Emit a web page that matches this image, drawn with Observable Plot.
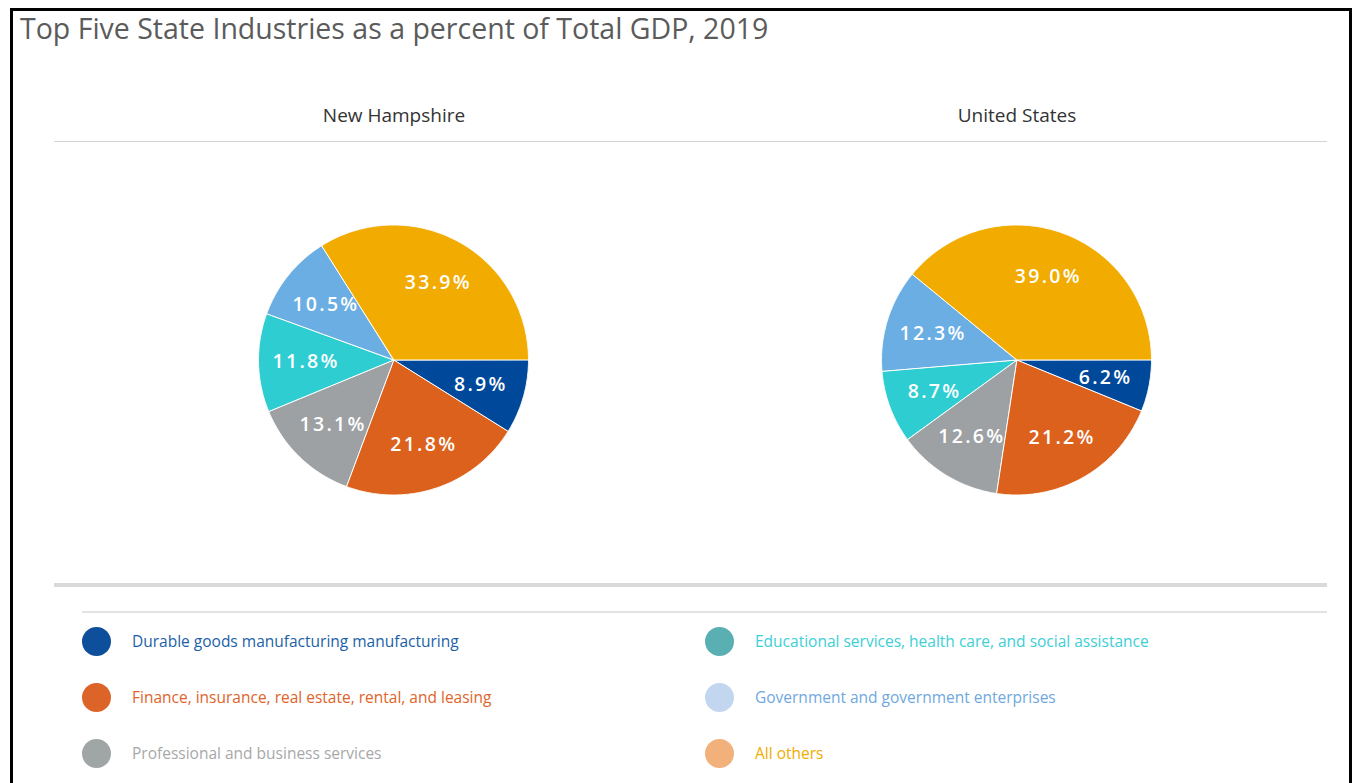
<!DOCTYPE html>
<html>
<head>
<meta charset="utf-8">
<script src="https://cdn.jsdelivr.net/npm/d3@7"></script>
<script src="https://cdn.jsdelivr.net/npm/@observablehq/plot@0.6"></script>
<style>
  html, body { margin: 0; padding: 0; background: #fff; overflow: hidden; }
  body { width: 1353px; height: 783px; position: relative; font-family: "Open Sans", "Noto Sans", sans-serif; }
  #frame { position: absolute; left: 10px; top: 8px; width: 1336px; height: 800px; border: 3px solid #000; box-sizing: content-box; }
  #title { position: absolute; left: 20px; top: 9px; font-size: 28.5px; color: #5b5b5b; white-space: nowrap; }
  .hline { position: absolute; }
  #chart { position: absolute; left: 0; top: 0; }
  .legend-item { position: absolute; display: flex; align-items: center; font-size: 15.5px; white-space: nowrap; }
  .legend-item .sw { width: 29px; height: 29px; border-radius: 50%; margin-right: 21px; }
</style>
</head>
<body>
<div id="frame"></div>
<div id="title">Top Five State Industries as a percent of Total GDP, 2019</div>
<div id="chart"></div>
<div class="hline" style="left:54px;top:141px;width:1273px;height:1px;background:#d4d4d4"></div>
<div class="hline" style="left:54px;top:583px;width:1273px;height:4px;background:#d9d9d9"></div>
<div class="hline" style="left:82px;top:611px;width:1245px;height:2px;background:#e2e2e2"></div>
<div id="legend"></div>
<script>
// ---- data ----
const regions = ["New Hampshire", "United States"];
const industries = [
  "Durable goods manufacturing manufacturing",
  "Finance, insurance, real estate, rental, and leasing",
  "Professional and business services",
  "Educational services, health care, and social assistance",
  "Government and government enterprises",
  "All others"
];
const nhValues = [8.9, 21.8, 13.1, 11.8, 10.5, 33.9];
const usValues = [6.2, 21.2, 12.6, 8.7, 12.3, 39.0];
const pieColors = ["#00499a", "#dc611c", "#9da1a3", "#2ecdd2", "#6aaee3", "#f2ab00"];
const legendSwatchColors = ["#0d4f9a", "#dd6428", "#a0a5a6", "#5aafb3", "#c3d6ef", "#f2b07a"];
const legendTextColors = ["#1b5fa8", "#e0642a", "#a8a8a8", "#3ccfd6", "#6fa8e0", "#f0ac00"];

// ---- layout constants ----
const W = 1353, H = 590;
const marginLeft = 81.5, marginRight = 25.5, marginTop = 130, marginBottom = 0;
const R = 135; // pie radius in px
const facetW = (W - marginLeft - marginRight) / regions.length;
const innerH = H - marginTop - marginBottom;
const xk = facetW / (2 * R), yk = innerH / (2 * R);

// ---- build slices ----
const valuesByRegion = {"New Hampshire": nhValues, "United States": usValues};
const pie = d3.pie().sort(null).startAngle(Math.PI / 2).endAngle(Math.PI / 2 + 2 * Math.PI);
const slicePts = [];
const labels = [];
for (const region of regions) {
  const vals = valuesByRegion[region];
  const arcs = pie(vals);
  arcs.forEach((a, i) => {
    const n = Math.max(2, Math.ceil((a.endAngle - a.startAngle) / (Math.PI / 360)));
    for (let k = 0; k <= n; ++k) {
      const t = a.startAngle + (a.endAngle - a.startAngle) * k / n;
      slicePts.push({region, industry: industries[i], ax: Math.sin(t), ay: Math.cos(t)});
    }
    const mid = (a.startAngle + a.endAngle) / 2;
    labels.push({region, industry: industries[i], lx: 0.66 * Math.sin(mid), ly: 0.66 * Math.cos(mid), text: vals[i].toFixed(1) + "%"});
  });
}

const chart = Plot.plot({
  width: W, height: H,
  marginLeft, marginRight, marginTop, marginBottom,
  style: {fontFamily: "'Open Sans', 'Noto Sans', sans-serif", fontSize: "19px", color: "#333", background: "transparent"},
  fx: {domain: regions, padding: 0, axis: "top", label: null, tickSize: 0, tickPadding: 9},
  x: {domain: [-xk, xk], axis: null},
  y: {domain: [-yk, yk], axis: null},
  color: {domain: industries, range: pieColors},
  marks: [
    Plot.area(slicePts, {fx: "region", x1: "ax", y1: "ay", x2: () => 0, y2: () => 0, z: "industry", fill: "industry", stroke: "#fff", strokeWidth: 1}),
    Plot.text(labels, {fx: "region", x: "lx", y: "ly", text: "text", fill: "#fff", fontSize: 19.5, fontWeight: 600})
  ]
});
document.getElementById("chart").appendChild(chart);

// widen the percentage labels (letter spacing as in the reference)
for (const t of chart.querySelectorAll("text")) {
  if (/%$/.test(t.textContent)) {
    const len = t.getComputedTextLength();
    if (len > 0) {
      t.setAttribute("textLength", (len + 2.3 * (t.textContent.length - 1)).toFixed(1));
      t.setAttribute("lengthAdjust", "spacing");
    }
  }
}

// ---- legend ----
const legend = document.getElementById("legend");
industries.forEach((name, i) => {
  const col = Math.floor(i / 3), row = i % 3;
  const item = document.createElement("div");
  item.className = "legend-item";
  item.style.left = (col === 0 ? 82 : 705) + "px";
  item.style.top = (641 + row * 56 - 14.5) + "px";
  item.style.height = "29px";
  const sw = document.createElement("div");
  sw.className = "sw";
  sw.style.background = legendSwatchColors[i];
  const tx = document.createElement("span");
  tx.textContent = name;
  tx.style.color = legendTextColors[i];
  item.appendChild(sw); item.appendChild(tx);
  legend.appendChild(item);
});
</script>
</body>
</html>
